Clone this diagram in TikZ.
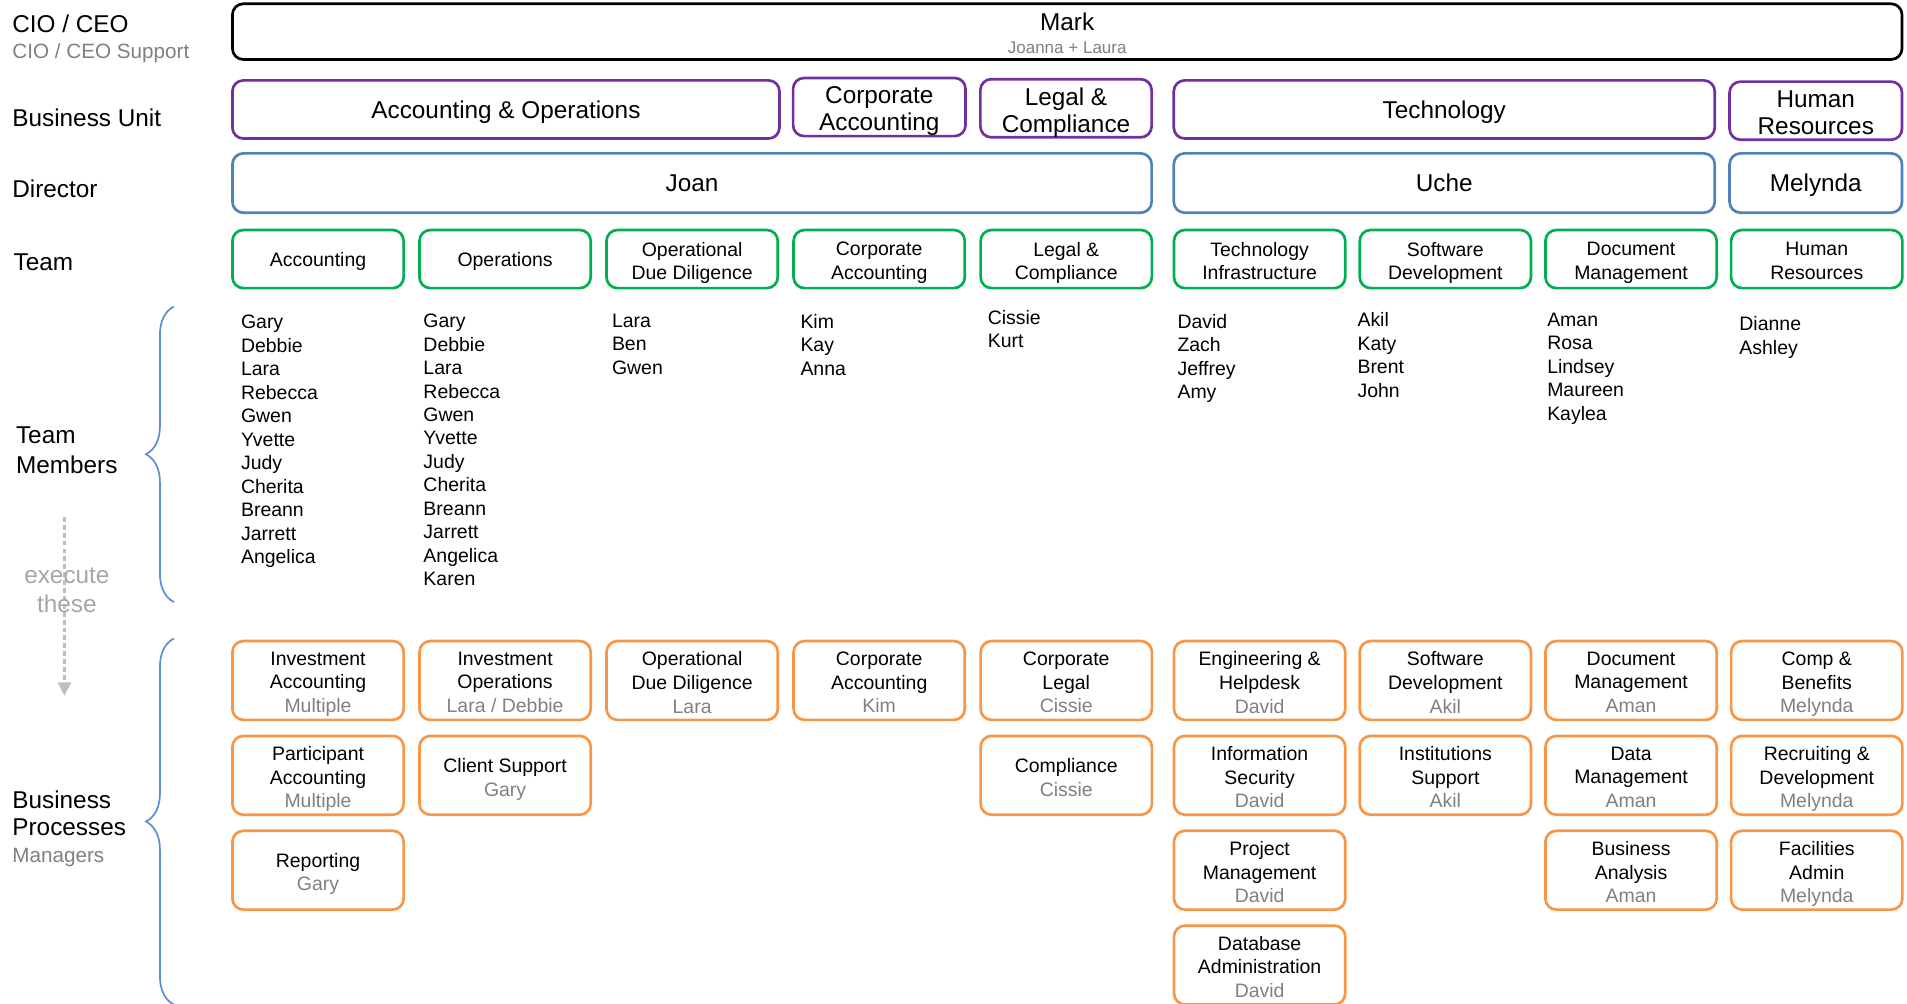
\documentclass[tikz,border=0pt]{standalone}
\usepackage{fontspec}
\setmainfont{Liberation Sans}
\usetikzlibrary{arrows.meta, positioning, decorations.pathreplacing}

\definecolor{buPurple}{HTML}{7030A0}
\definecolor{dirBlue}{HTML}{4F81BD}
\definecolor{teamGreen}{HTML}{00B050}
\definecolor{procOrange}{HTML}{F79646}
\definecolor{mgrGrey}{HTML}{808080}
\definecolor{noteGrey}{HTML}{A6A6A6}
\definecolor{arrowGrey}{HTML}{BFBFBF}
\definecolor{braceBlue}{HTML}{5B8ED6}

\newcommand{\mgr}[1]{\textcolor{mgrGrey}{#1}}

\tikzset{
  orgbox/.style={draw, rounded corners=9pt, line width=2.2pt, align=center, inner sep=2pt, text depth=-1pt,
    execute at begin node={\everycr{\noalign{\vskip3pt\global\everycr{}}}}},
  ceo/.style={orgbox, draw=black, minimum height=45.8pt, font=\fontsize{20}{19}\selectfont},
  unit/.style={orgbox, draw=buPurple, minimum height=47.8pt, font=\fontsize{20}{22}\selectfont},
  director/.style={orgbox, draw=dirBlue, minimum height=48.8pt, font=\fontsize{20}{22}\selectfont},
  team/.style={orgbox, draw=teamGreen, minimum width=140.8pt, minimum height=47.8pt, font=\fontsize{16}{19.5}\selectfont},
  process/.style={orgbox, draw=procOrange, minimum width=140.8pt, minimum height=64.8pt, font=\fontsize{16}{19.5}\selectfont},
  members/.style={anchor=north west, inner sep=0pt, align=left, font=\fontsize{16}{19.3}\selectfont},
  rowlabel/.style={anchor=west, inner sep=0pt, align=left, font=\fontsize{20}{23}\selectfont},
  bracket/.style={draw=braceBlue, line width=1.4pt, decorate, decoration={brace, amplitude=23pt}},
  execflow/.style={draw=arrowGrey, line width=1.9pt, dash pattern=on 4pt off 2.5pt, -{Triangle[width=11pt,length=11pt]}},
}

\begin{document}
\begin{tikzpicture}[x=1pt, y=-1pt]
  \useasboundingbox (0,0) rectangle (1568,825);
  \clip (0,0) rectangle (1568,825);

  % row labels
  \node[rowlabel, font=\fontsize{20}{22}\selectfont] (lcio) at (10,32) {CIO / CEO\\{\fontsize{17}{20}\selectfont\color{mgrGrey}CIO / CEO Support}};
  \node[rowlabel] (lunit) at (10,97) {Business Unit};
  \node[rowlabel] (ldir) at (10,155) {Director};
  \node[rowlabel] (lteam) at (11,216) {Team};
  \node[rowlabel, font=\fontsize{20}{25}\selectfont] (lmembers) at (13,370) {Team\\Members};
  \node[rowlabel, font=\fontsize{20}{22}\selectfont] (lproc) at (10,681.5) {Business\\Processes\\{\fontsize{17}{20}\selectfont\color{mgrGrey}Managers}};

  \coordinate (exectop) at (53,425);
  \coordinate (exectip) at (53,572);
  \draw[execflow] (exectop) -- (exectip);
  \node[align=center, inner sep=0pt, text=noteGrey, font=\fontsize{20}{24}\selectfont] (lexec) at (55,485.5) {execute\\these};

  \draw[bracket] (143,495) -- (143,252);
  \draw[bracket] (143,826) -- (143,525);

  % top
  \node[ceo, minimum width=1372.8pt] (mark) at (877.5,26) {Mark\\{\fontsize{14}{16}\selectfont\color{mgrGrey}Joanna + Laura}};

  % business units
  \node[unit, minimum width=449.8pt] (buacc) at (416,90) {Accounting \& Operations};
  \node[unit, minimum width=141.8pt] (bucorp) at (723,88) {Corporate\\Accounting};
  \node[unit, minimum width=140.8pt] (bulegal) at (876.5,89) {Legal \&\\Compliance};
  \node[unit, minimum width=444.8pt] (butech) at (1187.5,90) {Technology};
  \node[unit, minimum width=141.8pt] (buhr) at (1493,91) {Human\\Resources};

  % directors
  \node[director, minimum width=755.8pt] (djoan) at (569,150.5) {Joan};
  \node[director, minimum width=444.8pt] (duche) at (1187.5,150.5) {Uche};
  \node[director, minimum width=141.8pt] (dmel) at (1493,150.5) {Melynda};

  % teams
  \node[team] (tacc) at (261.5,213) {Accounting};
  \node[team, right=10.8pt of tacc] (tops) {Operations};
  \node[team, right=10.8pt of tops] (todd) {Operational\\Due Diligence};
  \node[team, right=10.8pt of todd] (tcorp) {Corporate\\Accounting};
  \node[team, right=10.8pt of tcorp] (tlegal) {Legal \&\\Compliance};
  \node[team, right=16pt of tlegal] (ttech) {Technology\\Infrastructure};
  \node[team, right=9.7pt of ttech] (tsoft) {Software\\Development};
  \node[team, right=9.7pt of tsoft] (tdoc) {Document\\Management};
  \node[team, right=9.7pt of tdoc] (thr) {Human\\Resources};

  % team members
  \node[members] (macc) at (198,259) {Gary\\Debbie\\Lara\\Rebecca\\Gwen\\Yvette\\Judy\\Cherita\\Breann\\Jarrett\\Angelica};
  \node[members] (mops) at (348,258) {Gary\\Debbie\\Lara\\Rebecca\\Gwen\\Yvette\\Judy\\Cherita\\Breann\\Jarrett\\Angelica\\Karen};
  \node[members] (modd) at (503,258) {Lara\\Ben\\Gwen};
  \node[members] (mcorp) at (658,258) {Kim\\Kay\\Anna};
  \node[members] (mlegal) at (812,255) {Cissie\\Kurt};
  \node[members] (mtech) at (968,258) {David\\Zach\\Jeffrey\\Amy};
  \node[members] (msoft) at (1116,257) {Akil\\Katy\\Brent\\John};
  \node[members] (mdoc) at (1272,257) {Aman\\Rosa\\Lindsey\\Maureen\\Kaylea};
  \node[members] (mhr) at (1430,260) {Dianne\\Ashley};

  % business processes
  \node[process] (pia) at (261.5,559.5) {Investment\\Accounting\\\mgr{Multiple}};
  \node[process, right=10.8pt of pia] (pio) {Investment\\Operations\\\mgr{Lara / Debbie}};
  \node[process, right=10.8pt of pio] (podd) {Operational\\Due Diligence\\\mgr{Lara}};
  \node[process, right=10.8pt of podd] (pca) {Corporate\\Accounting\\\mgr{Kim}};
  \node[process, right=10.8pt of pca] (pcl) {Corporate\\Legal\\\mgr{Cissie}};
  \node[process, right=16pt of pcl] (peng) {Engineering \&\\Helpdesk\\\mgr{David}};
  \node[process, right=9.7pt of peng] (psd) {Software\\Development\\\mgr{Akil}};
  \node[process, right=9.7pt of psd] (pdm) {Document\\Management\\\mgr{Aman}};
  \node[process, right=9.7pt of pdm] (pcb) {Comp \&\\Benefits\\\mgr{Melynda}};

  \node[process, below=11pt of pia] (ppa) {Participant\\Accounting\\\mgr{Multiple}};
  \node[process, below=11pt of pio] (pcs) {Client Support\\\mgr{Gary}};
  \node[process, below=11pt of pcl] (pcomp) {Compliance\\\mgr{Cissie}};
  \node[process, below=11pt of peng] (pis) {Information\\Security\\\mgr{David}};
  \node[process, below=11pt of psd] (pins) {Institutions\\Support\\\mgr{Akil}};
  \node[process, below=11pt of pdm] (pdata) {Data\\Management\\\mgr{Aman}};
  \node[process, below=11pt of pcb] (prd) {Recruiting \&\\Development\\\mgr{Melynda}};

  \node[process, below=11pt of ppa] (prep) {Reporting\\\mgr{Gary}};
  \node[process, below=11pt of pis] (ppm) {Project\\Management\\\mgr{David}};
  \node[process, below=11pt of pdata] (pba) {Business\\Analysis\\\mgr{Aman}};
  \node[process, below=11pt of prd] (pfa) {Facilities\\Admin\\\mgr{Melynda}};

  \node[process, below=11pt of ppm] (pdba) {Database\\Administration\\\mgr{David}};
\end{tikzpicture}
\end{document}
